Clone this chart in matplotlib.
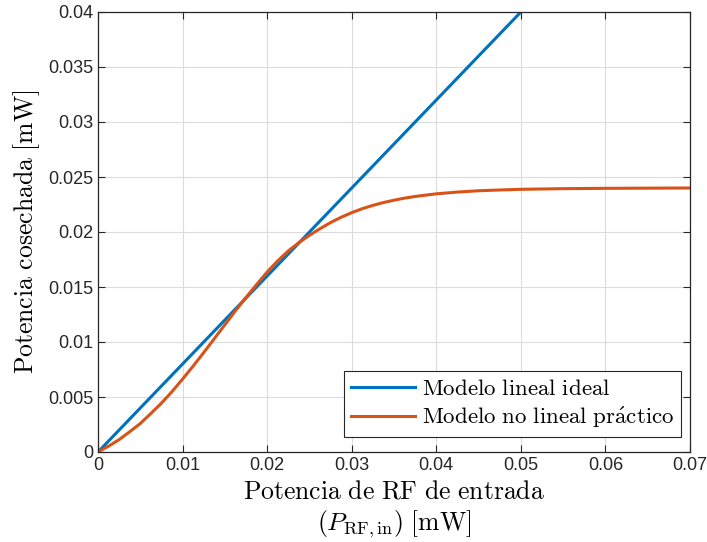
import matplotlib
matplotlib.use("Agg")
import matplotlib.pyplot as plt

# Linear (ideal) model
x_lin = [0.0, 0.05]
y_lin = [0.0, 0.04]

# Nonlinear (practical) model
x_nl = [0.0, 0.00125, 0.0025, 0.00375, 0.005, 0.00625, 0.0075, 0.00875,
        0.01, 0.01125, 0.0125, 0.01375, 0.015, 0.01625, 0.0175, 0.01875,
        0.02, 0.02125, 0.0225, 0.02375, 0.025, 0.02625, 0.0275, 0.02875,
        0.03, 0.03125, 0.0325, 0.03375, 0.035, 0.03625, 0.0375, 0.04,
        0.0425, 0.045, 0.0475, 0.05, 0.055, 0.06, 0.07]
y_nl = [0.0, 0.00053, 0.00113, 0.00184, 0.00259, 0.00350, 0.00444, 0.00549,
        0.00663, 0.00781, 0.00904, 0.01030, 0.01157, 0.01283, 0.01405, 0.01522,
        0.01636, 0.01738, 0.01828, 0.01903, 0.01970, 0.02030, 0.02086, 0.02134,
        0.02176, 0.02212, 0.02242, 0.02268, 0.02289, 0.02308, 0.02323, 0.02347,
        0.02363, 0.02375, 0.02382, 0.02388, 0.02394, 0.02397, 0.0240]

xticks = [0, 0.01, 0.02, 0.03, 0.04, 0.05, 0.06, 0.07]
xtick_labels = ["0", "0.01", "0.02", "0.03", "0.04", "0.05", "0.06", "0.07"]
yticks = [0, 0.005, 0.01, 0.015, 0.02, 0.025, 0.03, 0.035, 0.04]
ytick_labels = ["0", "0.005", "0.01", "0.015", "0.02", "0.025", "0.03", "0.035", "0.04"]

plt.rcParams["mathtext.fontset"] = "cm"
plt.rcParams["font.family"] = ["Liberation Sans", "DejaVu Sans"]

fig = plt.figure(figsize=(7.07, 5.42), dpi=100)
ax = fig.add_axes([98 / 707, 90 / 542, 592 / 707, 440 / 542])

ax.plot(x_lin, y_lin, color="#0072BD", linewidth=2.2, label=r"$\mathrm{Modelo\ lineal\ ideal}$")
ax.plot(x_nl, y_nl, color="#D95319", linewidth=2.2,
        label=r"$\mathrm{Modelo\ no\ lineal\ pr\acute{a}ctico}$")

ax.set_xlim(0, 0.07)
ax.set_ylim(0, 0.04)
ax.set_xticks(xticks)
ax.set_xticklabels(xtick_labels)
ax.set_yticks(yticks)
ax.set_yticklabels(ytick_labels)
ax.tick_params(direction="in", top=True, right=True, labelsize=13,
               colors="#262626", length=5, width=0.8)
ax.grid(True, color="#dcdcdc", linewidth=0.8)
ax.set_axisbelow(True)
for s in ax.spines.values():
    s.set_color("#262626")
    s.set_linewidth(0.9)

ax.set_xlabel(r"$\mathrm{Potencia\ de\ RF\ de\ entrada}$" "\n"
              r"$(P_{\mathrm{RF,in}})\ \mathrm{[mW]}$", fontsize=18.5, labelpad=4,
              linespacing=1.2)
ax.set_ylabel(r"$\mathrm{Potencia\ cosechada\ [mW]}$", fontsize=18.5, labelpad=4)

leg = ax.legend(loc="lower right", bbox_to_anchor=(0.985, 0.034), borderaxespad=0,
                fontsize=16.5, frameon=True, fancybox=False,
                edgecolor="#262626", framealpha=1, handlelength=2.8,
                borderpad=0.3, labelspacing=0.2, handletextpad=0.3)
leg.get_frame().set_linewidth(0.8)

fig.savefig("out.png", dpi=100)
